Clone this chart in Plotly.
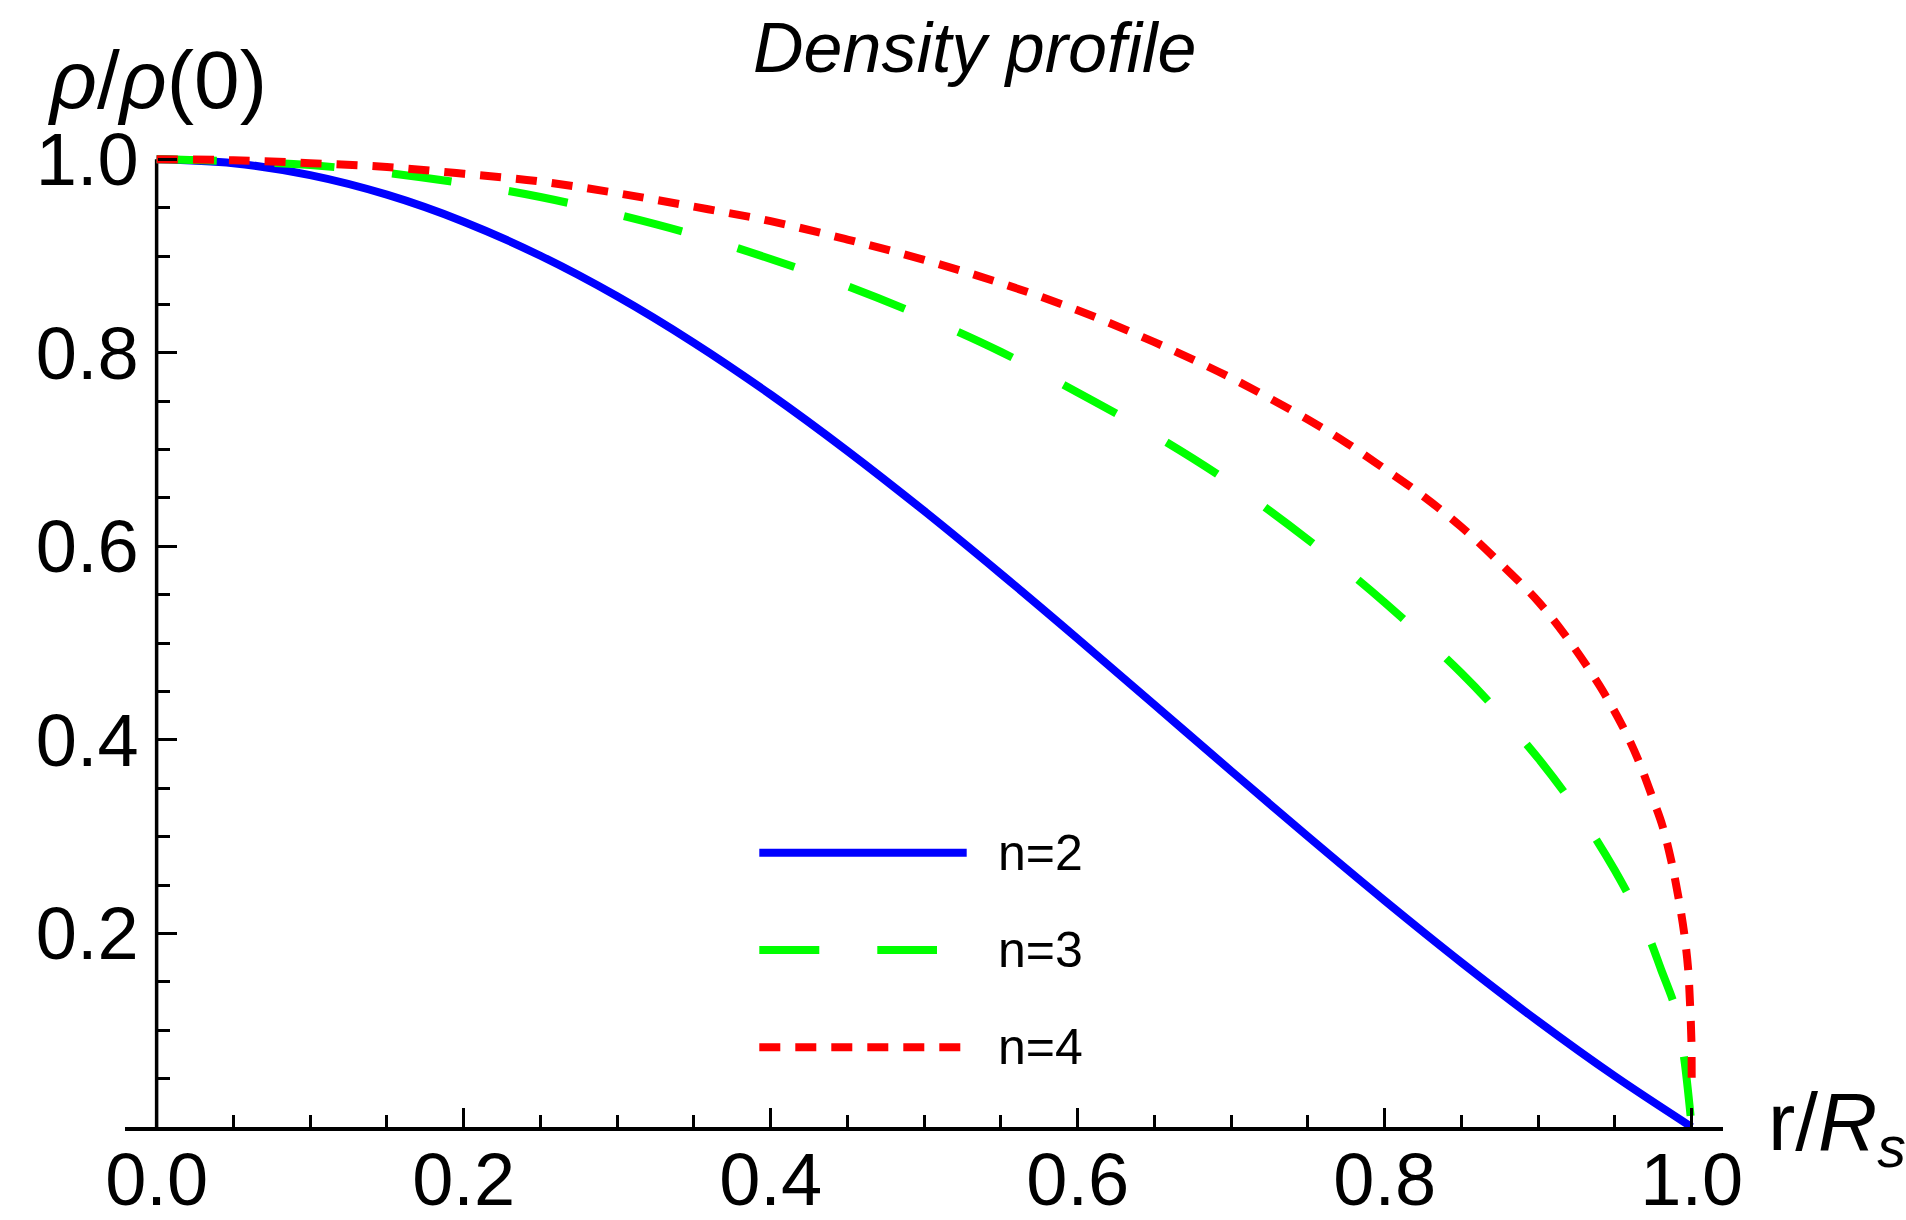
import plotly.graph_objects as go

# ---------------- data ----------------
x_n2 = [0.00, 0.05, 0.10, 0.15, 0.20, 0.25, 0.30, 0.35, 0.40, 0.45, 0.50,
        0.55, 0.60, 0.65, 0.70, 0.75, 0.80, 0.85, 0.90, 0.95, 1.00]
rho_n2 = [1.0000, 0.9959, 0.9836, 0.9634, 0.9355, 0.9003, 0.8584, 0.8103, 0.7568, 0.6986, 0.6366,
          0.5716, 0.5046, 0.4363, 0.3679, 0.3001, 0.2339, 0.1700, 0.1093, 0.0524, 0.0000]

x_n3 = [0.00, 0.05, 0.10, 0.15, 0.20, 0.25, 0.30, 0.35, 0.40, 0.45, 0.50,
        0.55, 0.60, 0.65, 0.70, 0.75, 0.80, 0.85, 0.875, 0.90, 0.925, 0.95,
        0.97, 0.98, 0.99, 0.995, 1.00]
rho_n3 = [1.000, 0.998, 0.994, 0.986, 0.975, 0.961, 0.943, 0.922, 0.897, 0.869, 0.837,
          0.801, 0.759, 0.715, 0.665, 0.607, 0.542, 0.469, 0.427, 0.381, 0.328, 0.265,
          0.204, 0.163, 0.119, 0.072, 0.000]

x_n4 = [0.00, 0.05, 0.10, 0.15, 0.20, 0.25, 0.30, 0.35, 0.40, 0.45, 0.50,
        0.55, 0.60, 0.65, 0.70, 0.75, 0.775, 0.80, 0.825, 0.85, 0.875, 0.90,
        0.92, 0.94, 0.955, 0.965, 0.975, 0.981, 0.9867, 0.9913, 0.995, 0.9976,
        0.9989, 0.9998, 1.000, 1.000]
rho_n4 = [1.000, 0.999, 0.996, 0.992, 0.985, 0.977, 0.965, 0.951, 0.936, 0.917, 0.896,
          0.872, 0.844, 0.811, 0.774, 0.731, 0.707, 0.680, 0.652, 0.620, 0.583, 0.543,
          0.503, 0.456, 0.414, 0.380, 0.338, 0.311, 0.275, 0.238, 0.2015, 0.165,
          0.128, 0.090, 0.053, 0.042]

series_names = ["n=2", "n=3", "n=4"]
x_tick_vals = [0.0, 0.2, 0.4, 0.6, 0.8, 1.0]
x_tick_text = ["0.0", "0.2", "0.4", "0.6", "0.8", "1.0"]
y_tick_vals = [0.2, 0.4, 0.6, 0.8, 1.0]
y_tick_text = ["0.2", "0.4", "0.6", "0.8", "1.0"]

# ---------------- styling ----------------
FONT = "Liberation Sans, Arial, Helvetica, sans-serif"
BLUE, GREEN, RED = "#0000FF", "#00FF00", "#FF0000"
LW = 8
styles = [
    dict(color=BLUE, width=LW, dash="solid"),
    dict(color=GREEN, width=LW, dash="60px,58px"),
    dict(color=RED, width=LW, dash="21px,15px"),
]

W, H = 1906, 1220
ML, MR, MT, MB = 125, 183, 149, 93
XR = [-0.0206, 1.0204]
YR = [0.0, 1.0106]
pw, ph = W - ML - MR, H - MT - MB


def px_x(px):  # pixel -> paper x
    return (px - ML) / pw


def px_y(py):  # pixel -> paper y
    return (H - MB - py) / ph


fig = go.Figure()
for xs, ys, name, st in zip([x_n2, x_n3, x_n4], [rho_n2, rho_n3, rho_n4], series_names, styles):
    fig.add_trace(go.Scatter(x=xs, y=ys, mode="lines", name=name,
                             line=dict(**st, shape="spline", smoothing=1.0),
                             showlegend=False, hoverinfo="skip"))

tickfont = dict(family=FONT, size=74, color="black")
minor = dict(dtick=0.05, tick0=0, ticks="inside", ticklen=12,
             tickwidth=3, tickcolor="black", showgrid=False)
fig.update_layout(
    width=W, height=H, autosize=False,
    margin=dict(l=ML, r=MR, t=MT, b=MB, pad=0),
    paper_bgcolor="white", plot_bgcolor="white",
    showlegend=False,
    xaxis=dict(range=XR, tickmode="array", tickvals=x_tick_vals, ticktext=x_tick_text,
               ticks="inside", ticklen=19, tickwidth=3, tickcolor="black",
               showline=True, linewidth=3.5, linecolor="black",
               showgrid=False, zeroline=False, tickfont=tickfont,
               automargin=False, ticklabelstandoff=-15, minor=minor),
    yaxis=dict(range=YR, anchor="free", position=px_x(156.7),
               tickmode="array", tickvals=y_tick_vals, ticktext=y_tick_text,
               ticks="inside", ticklen=19, tickwidth=3, tickcolor="black",
               showline=False, showgrid=False, zeroline=False, tickfont=tickfont,
               automargin=False, ticklabelstandoff=18, minor=minor),
)

# vertical axis line from 0 to 1
fig.add_shape(type="line", xref="x", yref="y", x0=0, x1=0, y0=0, y1=1,
              line=dict(color="black", width=3.5), layer="below")

# title and axis labels
fig.add_annotation(text="<i>Density profile</i>", xref="paper", yref="paper",
                   x=px_x(975), y=px_y(48), xanchor="center", yanchor="middle",
                   showarrow=False, font=dict(family=FONT, size=70, color="black"))
fig.add_annotation(text="<i>ρ</i>/<i>ρ</i>(0)", xref="paper", yref="paper",
                   x=px_x(157), y=px_y(79), xanchor="center", yanchor="middle",
                   showarrow=False, font=dict(family=FONT, size=82, color="black"))
fig.add_annotation(text="r/<i>R</i><sub><i>s</i></sub>", xref="paper", yref="paper",
                   x=px_x(1766), y=px_y(1127), xanchor="left", yanchor="middle",
                   showarrow=False, font=dict(family=FONT, size=82, color="black"))

# manual legend (long line samples as in the reference)
leg_rows_px = [852.7, 950.0, 1047.3]
leg_x0_px = 759.3
leg_x1_px = [966.7, 937.0, 960.7]
for name, st, ry, x1 in zip(series_names, styles, leg_rows_px, leg_x1_px):
    fig.add_shape(type="line", xref="paper", yref="paper",
                  x0=px_x(leg_x0_px), x1=px_x(x1), y0=px_y(ry), y1=px_y(ry),
                  line=dict(color=st["color"], width=st["width"], dash=st["dash"]))
    fig.add_annotation(text=name, xref="paper", yref="paper",
                       x=px_x(996), y=px_y(ry), xanchor="left", yanchor="middle",
                       showarrow=False, font=dict(family=FONT, size=50, color="black"))

fig.write_html("out.html")
